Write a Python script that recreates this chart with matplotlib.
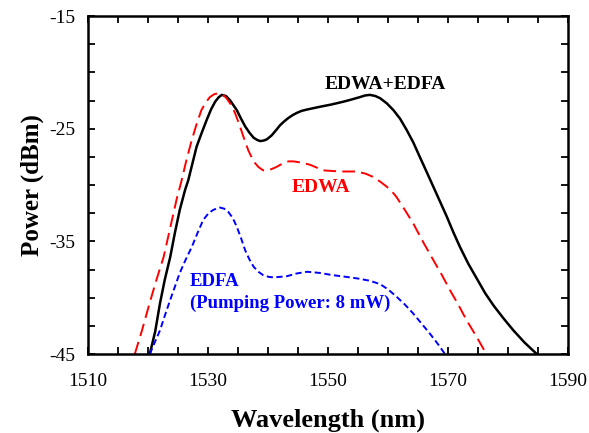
import matplotlib
matplotlib.use("Agg")
import matplotlib.pyplot as plt
import numpy as np

plt.rcParams['font.family'] = ['Liberation Serif', 'DejaVu Serif']
plt.rcParams['axes.unicode_minus'] = False

# EDWA+EDFA (solid black)
wl_both = [1520.3, 1521.2, 1522.0, 1522.8, 1523.7, 1524.5, 1525.3, 1526.2, 1526.7, 1527.4, 1528.1,
           1529.0, 1529.8, 1530.5, 1531.2, 1531.8, 1532.3, 1533.0, 1533.7, 1534.8, 1535.5, 1536.2,
           1536.9, 1537.6, 1538.2, 1538.7, 1539.3, 1539.8, 1540.6, 1541.4, 1542.0, 1542.7, 1543.4,
           1544.1, 1544.8, 1545.6, 1546.5, 1548.7, 1550.6, 1552.6, 1554.0, 1555.3, 1556.2, 1557.0,
           1557.9, 1558.7, 1559.8, 1560.9, 1562.0, 1563.1, 1564.2, 1565.3, 1566.5, 1567.6, 1568.7,
           1569.8, 1570.9, 1572.0, 1573.4, 1574.8, 1576.2, 1577.6, 1579.2, 1580.9, 1582.8, 1584.8]
p_both = [-45.0, -43.0, -40.5, -38.4, -36.4, -34.2, -32.2, -30.4, -29.6, -28.1, -26.6,
          -25.3, -24.2, -23.3, -22.6, -22.2, -22.0, -22.1, -22.5, -23.35, -24.1, -24.8,
          -25.35, -25.8, -26.0, -26.1, -26.05, -25.95, -25.6, -25.1, -24.7, -24.35, -24.05,
          -23.8, -23.6, -23.42, -23.3, -23.05, -22.85, -22.6, -22.4, -22.2, -22.05, -22.0,
          -22.1, -22.3, -22.75, -23.35, -24.1, -25.1, -26.2, -27.5, -28.9, -30.2, -31.5,
          -32.8, -34.2, -35.5, -37.0, -38.3, -39.6, -40.7, -41.8, -42.9, -44.0, -45.0]

# EDWA (long-dashed red)
wl_edwa = [1517.8, 1519.0, 1520.1, 1521.3, 1522.6, 1523.7, 1524.8, 1525.6, 1526.4, 1527.3, 1528.1,
           1528.9, 1529.6, 1530.3, 1531.0, 1531.7, 1532.4, 1533.1, 1533.8, 1534.5, 1535.2, 1535.9,
           1536.7, 1537.6, 1538.4, 1539.2, 1540.3, 1541.4, 1542.4, 1543.4, 1544.2, 1545.5, 1547.0,
           1549.2, 1552.0, 1554.8, 1556.3, 1557.6, 1558.7, 1559.8, 1560.7, 1561.4, 1562.8, 1564.2,
           1565.9, 1567.6, 1569.0, 1570.3, 1571.7, 1573.1, 1574.8, 1576.4]
p_edwa = [-45.0, -42.9, -40.8, -38.6, -36.4, -33.8, -31.2, -29.6, -27.8, -26.0, -24.6,
          -23.35, -22.7, -22.2, -21.95, -21.85, -21.95, -22.3, -22.85, -23.6, -24.6, -25.7,
          -26.9, -27.9, -28.4, -28.7, -28.65, -28.4, -28.1, -27.9, -27.9, -28.0, -28.2,
          -28.7, -28.8, -28.8, -29.0, -29.3, -29.7, -30.15, -30.6, -31.05, -32.2, -33.4,
          -35.1, -36.7, -38.0, -39.3, -40.6, -42.0, -43.5, -45.0]

# EDFA, pumping power 8 mW (short-dashed blue)
wl_edfa = [1520.3, 1521.1, 1522.0, 1522.8, 1523.7, 1524.5, 1525.3, 1526.3, 1527.3, 1528.3, 1529.2,
           1530.1, 1530.9, 1532.0, 1532.7, 1533.4, 1534.1, 1534.8, 1535.5, 1536.2, 1536.9, 1537.6,
           1538.4, 1539.2, 1540.1, 1540.9, 1542.0, 1543.1, 1544.8, 1546.5, 1548.6, 1550.8, 1553.0,
           1555.0, 1557.0, 1558.7, 1560.1, 1561.4, 1562.8, 1564.2, 1565.6, 1567.0, 1568.3, 1569.5]
p_edfa = [-45.0, -44.0, -42.9, -41.6, -40.2, -39.0, -37.8, -36.6, -35.5, -34.2, -33.1,
          -32.5, -32.2, -32.0, -32.1, -32.4, -32.9, -33.7, -34.7, -35.8, -36.6, -37.25,
          -37.7, -38.0, -38.15, -38.2, -38.15, -38.1, -37.85, -37.7, -37.8, -38.0, -38.15,
          -38.3, -38.5, -38.8, -39.3, -39.9, -40.6, -41.4, -42.3, -43.2, -44.1, -45.0]

xticks = [1510, 1530, 1550, 1570, 1590]
yticks = [-45, -35, -25, -15]

fig = plt.figure(figsize=(5.89, 4.33), dpi=100)
ax = fig.add_axes([0.1494, 0.1824, 0.8149, 0.7806])

ax.plot(wl_both, p_both, color='black', lw=1.8)
ax.plot(wl_edwa, p_edwa, color='red', lw=1.4, dashes=(6.5, 3.2))
ax.plot(wl_edfa, p_edfa, color='blue', lw=1.4, dashes=(3.2, 1.8))

ax.set_xlim(1510, 1590)
ax.set_ylim(-45, -15)
ax.set_xticks(xticks)
ax.set_xticks(np.arange(1510, 1591, 5), minor=True)
ax.set_yticks(yticks)
ax.set_yticks(np.arange(-45, -14, 2.5), minor=True)
ax.tick_params(which='both', direction='in', top=True, right=True, width=1.3, length=5)
ax.tick_params(axis='x', labelsize=14, pad=14)
ax.tick_params(axis='y', labelsize=14, pad=9)
for s in ax.spines.values():
    s.set_linewidth(1.8)

ax.set_xlabel('Wavelength (nm)', fontsize=19, fontweight='bold', labelpad=13)
ax.set_ylabel('Power (dBm)', fontsize=18, fontweight='bold', labelpad=4)

ax.text(1549.5, -21.5, 'EDWA+EDFA', color='black', fontsize=14, fontweight='bold', va='baseline')
ax.text(1543.9, -30.6, 'EDWA', color='red', fontsize=14, fontweight='bold', va='baseline')
ax.text(1527, -39.0, 'EDFA', color='blue', fontsize=13.5, fontweight='bold', va='baseline')
ax.text(1527, -40.95, '(Pumping Power: 8 mW)', color='blue', fontsize=13.5, fontweight='bold',
        va='baseline')

fig.savefig('out.png', dpi=100)
